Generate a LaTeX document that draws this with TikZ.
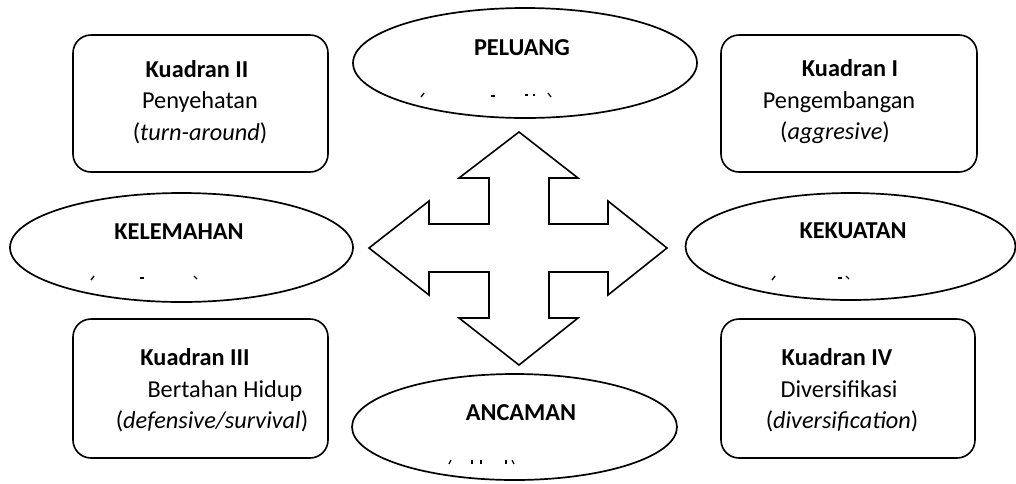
\documentclass[tikz,border=0pt]{standalone}
\usepackage{fontspec}
\setmainfont{Carlito}
\usetikzlibrary{shapes.geometric}
\tikzset{
  quadbox/.style={draw=black, line width=1.6pt, rounded corners=18pt, inner sep=0pt, fill=white},
  oval/.style={draw=black, ellipse, line width=1.7pt, inner sep=0pt, fill=white},
  txt/.style={inner sep=0pt, anchor=base, font=\fontsize{24.3}{29}\selectfont},
  crossline/.style={draw=black, line width=1.6pt, line join=miter, fill=white},
  frag/.style={draw=black, line width=1.3pt}
}
\begin{document}
\begin{tikzpicture}[x=1pt,y=-1pt]
\useasboundingbox (0,0) rectangle (1016,483);
\fill[white] (0,0) rectangle (1016,483);

% quadrant boxes
\node[quadbox, minimum width=255pt, minimum height=137pt] (q2) at (200.5,103.5) {};
\node[quadbox, minimum width=256pt, minimum height=137pt] (q1) at (849,103.5) {};
\node[quadbox, minimum width=255pt, minimum height=139pt] (q3) at (200.5,388.5) {};
\node[quadbox, minimum width=254pt, minimum height=139pt] (q4) at (848,388.5) {};

\node[txt] (q2a) at (197,77) {\textbf{Kuadran II}};
\node[txt] (q2b) at (200,108) {Penyehatan};
\node[txt] (q2c) at (200,140) {(\textit{turn-around})};

\node[txt] (q1a) at (850,76) {\textbf{Kuadran I}};
\node[txt] (q1b) at (839,108) {Pengembangan};
\node[txt] (q1c) at (835,139) {(\textit{aggresive})};

\node[txt] (q3a) at (195,365) {\textbf{Kuadran III}};
\node[txt] (q3b) at (225,397) {Bertahan Hidup};
\node[txt] (q3c) at (212,428) {(\textit{defensive/survival})};

\node[txt] (q4a) at (837,365) {\textbf{Kuadran IV}};
\node[txt] (q4b) at (839,397) {Diversifikasi};
\node[txt] (q4c) at (842,428) {(\textit{diversification})};

% ellipses
\node[oval, minimum width=344pt, minimum height=110pt] (peluang) at (525,63) {};
\node[oval, minimum width=343pt, minimum height=109pt] (kelemahan) at (181.5,247.5) {};
\node[oval, minimum width=330pt, minimum height=107pt] (kekuatan) at (850.5,246.5) {};
\node[oval, minimum width=325pt, minimum height=106pt] (ancaman) at (514.5,427) {};

\node[txt] (peluangT) at (522,55) {\textbf{PELUANG}};
\node[txt] (kelemahanT) at (179,239) {\textbf{KELEMAHAN}};
\node[txt] (kekuatanT) at (853,238) {\textbf{KEKUATAN}};
\node[txt] (ancamanT) at (521,420) {\textbf{ANCAMAN}};

% clipped fragments of the second lines
\draw[frag] (421,97) -- (424,93);
\draw[frag] (491,96) -- (495,96);
\draw[frag] (525,95) -- (528,95);
\draw[frag] (533,95) -- (535,95);
\draw[frag] (548,93) -- (551,97);

\draw[frag] (91,280) -- (94,276);
\draw[frag] (140,278) -- (144,278);
\draw[frag] (194,276) -- (197,279);

\draw[frag] (772,280) -- (775,276);
\draw[frag] (838,278) -- (842,278);
\draw[frag] (846,276) -- (849,279);

\draw[frag] (449,464) -- (451,460);
\draw[frag] (472,460) -- (472,464);
\draw[frag] (481,460) -- (481,464);
\draw[frag] (506,460) -- (506,464);
\draw[frag] (512,460) -- (514,464);

% four-way arrow
\path[crossline]
  (519,132) -- (578,178) -- (549,178) -- (549,224) -- (608,224) -- (608,201)
  -- (667,248) -- (608,295) -- (608,272) -- (549,272) -- (549,318) -- (578,318)
  -- (519,365) -- (459,318) -- (489,318) -- (489,272) -- (429,272) -- (429,295)
  -- (369,248) -- (429,201) -- (429,224) -- (489,224) -- (489,178) -- (459,178) -- cycle;
\end{tikzpicture}
\end{document}
